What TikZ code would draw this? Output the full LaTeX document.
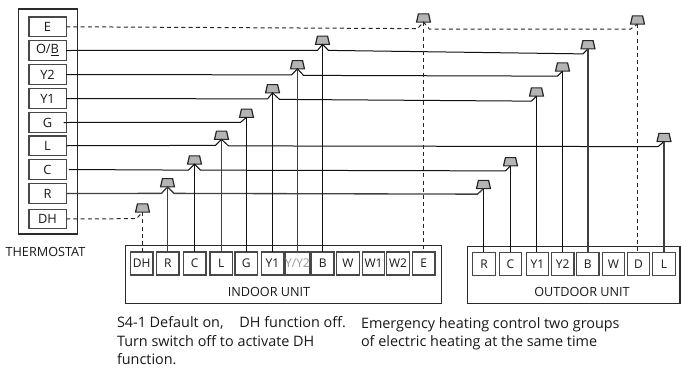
\documentclass[tikz,border=0pt]{standalone}
\usepackage{fontspec}
\setmainfont{Open Sans}
\usetikzlibrary{shapes.geometric}
\definecolor{boxline}{HTML}{2A2A2A}
\definecolor{termline}{HTML}{484848}
\definecolor{wirecol}{HTML}{101010}
\definecolor{capfill}{HTML}{B4B4B4}
\newcommand{\capbody}{\phantom{\rule{7.6pt}{6.2pt}}}
\tikzset{
  unitbox/.style={draw=boxline,line width=0.85pt,fill=white},
  term/.style={draw=termline,line width=1pt,fill=white,inner sep=0pt,outer sep=0pt,minimum width=16.9pt,minimum height=17.2pt,font=\fontsize{9}{10}\selectfont,text=black!90},
  stat/.style={term,minimum width=28pt,minimum height=14.6pt,font=\fontsize{9.6}{10}\selectfont},
  capnode/.style={draw=black!85,line width=0.9pt,fill=capfill,trapezium,trapezium left angle=77,trapezium right angle=77,inner sep=0pt,outer sep=0pt},
  wire/.style={draw=wirecol,line width=0.75pt},
  wiregray/.style={draw=black!75,line width=1pt},
  dwire/.style={draw=black!85,line width=0.75pt,dash pattern=on 3pt off 2.4pt},
  lab/.style={inner sep=0pt,outer sep=0pt,font=\fontsize{9.5}{10}\selectfont,text=black!90},
  note/.style={inner sep=0pt,outer sep=0pt,anchor=base west,font=\fontsize{10.8}{12}\selectfont,text=black!90}
}
\begin{document}
\begin{tikzpicture}[x=0.75pt,y=-0.75pt]
\useasboundingbox (0,0) rectangle (681,368);
% unit boxes
\node[unitbox,minimum width=44.2pt,minimum height=168.7pt,inner sep=0,outer sep=0] (thermostat) at (48.25,121.5) {};
\node[unitbox,minimum width=237pt,minimum height=43pt,inner sep=0,outer sep=0] (indoor) at (283.25,274.5) {};
\node[unitbox,minimum width=159.4pt,minimum height=43pt,inner sep=0,outer sep=0] (outdoor) at (573.75,275) {};
% thermostat terminals
\node[stat] (tE) at (47.5,26.75) {E};
\node[stat] (tOB) at (47.5,50.5) {O/\underline{B}};
\node[stat] (tYb) at (47.5,74.5) {Y2};
\node[stat] (tYa) at (47.5,98.5) {Y1};
\node[stat] (tG) at (47.5,122.5) {G};
\node[stat] (tL) at (47.5,145.75) {L};
\node[stat] (tC) at (47.5,169.5) {C};
\node[stat] (tR) at (47.5,193.5) {R};
\node[stat] (tDH) at (47.5,219) {DH};
% indoor terminals
\node[term] (iDH) at (141.75,263.5) {DH};
\node[term] (iR) at (167.75,263.5) {R};
\node[term] (iC) at (194.75,263.5) {C};
\node[term] (iL) at (221.25,263.5) {L};
\node[term] (iG) at (246.25,263.5) {G};
\node[term] (iYa) at (272.5,263.5) {Y1};
\node[term,text=black!40] (iYY) at (297.5,263.5) {Y/Y2};
\node[term] (iB) at (322.75,263.5) {B};
\node[term] (iW) at (348,263.5) {W};
\node[term] (iWa) at (373.5,263.5) {W1};
\node[term] (iWb) at (398,263.5) {W2};
\node[term] (iE) at (423.75,263.5) {E};
% outdoor terminals
\node[term] (oR) at (484,263.75) {R};
\node[term] (oC) at (510.5,263.75) {C};
\node[term] (oYa) at (537.5,263.75) {Y1};
\node[term] (oYb) at (562.75,263.75) {Y2};
\node[term] (oB) at (587.75,263.75) {B};
\node[term] (oW) at (613.5,263.75) {W};
\node[term] (oD) at (638.5,263.75) {D};
\node[term] (oL) at (664,263.75) {L};
% caps
\node[capnode] (cE) at (423.5,18) {\capbody};
\node[capnode] (cEo) at (637.5,20) {\capbody};
\node[capnode] (cOB) at (322.5,40.25) {\capbody};
\node[capnode] (cOBo) at (588,44.75) {\capbody};
\node[capnode] (cYb) at (297.5,64.75) {\capbody};
\node[capnode] (cYbo) at (562.5,67) {\capbody};
\node[capnode] (cYa) at (272.5,88.75) {\capbody};
\node[capnode] (cYao) at (536.5,92) {\capbody};
\node[capnode] (cG) at (246.5,113.25) {\capbody};
\node[capnode] (cL) at (221.5,135.25) {\capbody};
\node[capnode] (cLo) at (664,137.5) {\capbody};
\node[capnode] (cC) at (194.5,160) {\capbody};
\node[capnode] (cCo) at (510.5,161.75) {\capbody};
\node[capnode] (cR) at (167.5,182.75) {\capbody};
\node[capnode] (cRo) at (483.5,184.5) {\capbody};
\node[capnode] (cDH) at (142.5,208) {\capbody};
% wires
\draw[dwire] (tE.east) -- ([shift={(-6,6.5)}]cE.south) -- (cE.south) -- ([shift={(6,7)}]cE.south) -- ([shift={(-7,5)}]cEo.south) -- (cEo.south);
\draw[wire] (tOB.east) -- ([shift={(-5,6)}]cOB.south) -- (cOB.south) -- ([shift={(6,6)}]cOB.south) -- ([shift={(-5,5)}]cOBo.south) -- (cOBo.south);
\draw[wire] (tYb.east) -- ([shift={(-6,6)}]cYb.south) -- (cYb.south) -- ([shift={(6,6.5)}]cYb.south) -- ([shift={(-5,5)}]cYbo.south) -- (cYbo.south);
\draw[wire] (tYa.east) -- ([shift={(-5,6)}]cYa.south) -- (cYa.south) -- ([shift={(7,6.5)}]cYa.south) -- ([shift={(-5,5)}]cYao.south) -- (cYao.south);
\draw[wire] ([xshift=-2]tG.east) -- ([shift={(-6,5)}]cG.south) -- (cG.south);
\draw[wire] (tL.east) -- ([shift={(-6,6)}]cL.south) -- (cL.south) -- ([shift={(7,6.5)}]cL.south) -- ([shift={(-6,5)}]cLo.south) -- (cLo.south);
\draw[wire] ([xshift=2]tC.east) -- ([shift={(-6,6)}]cC.south) -- (cC.south) -- ([shift={(6,6)}]cC.south) -- ([shift={(-5,5)}]cCo.south) -- (cCo.south);
\draw[wiregray] (tR.east) -- ([shift={(-6,6.5)}]cR.south) -- (cR.south) -- ([shift={(6.5,6.5)}]cR.south) -- ([shift={(-6,5.5)}]cRo.south) -- (cRo.south);
\draw[dwire] (tDH.east) -- ([shift={(-6,6.5)}]cDH.south) -- (cDH.south);
% verticals
\draw[dwire] (cE.south) -- (cE.south |- iE.north);
\draw[dwire] (cEo.south) -- (cEo.south |- oD.north);
\draw[dwire] (cDH.south) -- (cDH.south |- iDH.north);
\draw[wire] (cOB.south) -- (cOB.south |- iB.north);
\draw[wiregray] (cOBo.south) -- (cOBo.south |- oB.north);
\draw[wiregray] (cYb.south) -- (cYb.south |- iYY.north);
\draw[wire] (cYbo.south) -- (cYbo.south |- oYb.north);
\draw[wire] (cYa.south) -- (cYa.south |- iYa.north);
\draw[wire] (cYao.south) -- (cYao.south |- oYa.north);
\draw[wire] (cG.south) -- (cG.south |- iG.north);
\draw[wiregray] (cL.south) -- (cL.south |- iL.north);
\draw[wiregray] (cLo.south) -- (cLo.south |- oL.north);
\draw[wire] (cC.south) -- (cC.south |- iC.north);
\draw[wire] (cCo.south) -- (cCo.south |- oC.north);
\draw[wiregray] (cR.south) -- (cR.south |- iR.north);
\draw[wire] (cRo.south) -- (cRo.south |- oR.north);
% labels
\node[lab] (lT) at (45.5,252) {THERMOSTAT};
\node[lab] (lI) at (269,291.5) {INDOOR UNIT};
\node[lab] (lO) at (582,292) {OUTDOOR UNIT};
\node[note] (n1) at (117,327) {S4-1 Default on,\hspace{1.1em}DH function off.};
\node[note] (n2) at (117,346.5) {Turn switch off to activate DH};
\node[note] (n3) at (117,364) {function.};
\node[note] (n4) at (361,328) {Emergency heating control two groups};
\node[note] (n5) at (361,346) {of electric heating at the same time};
\end{tikzpicture}
\end{document}
